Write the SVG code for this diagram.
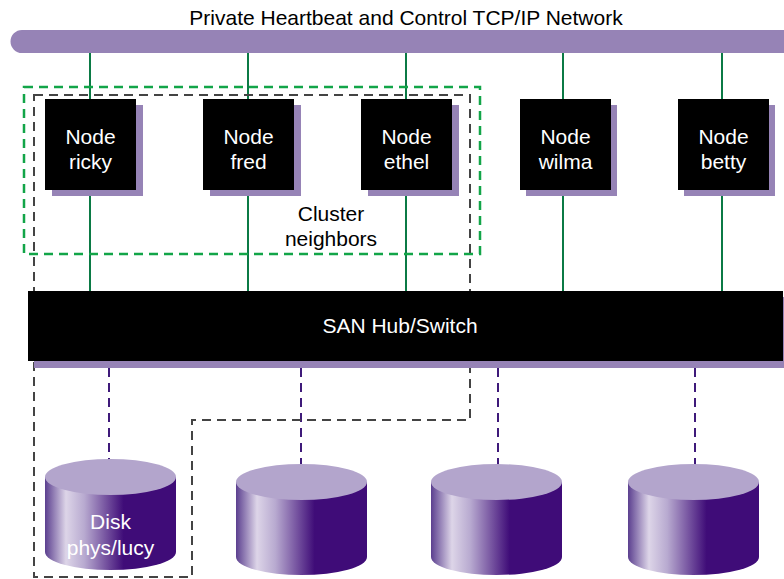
<svg xmlns="http://www.w3.org/2000/svg" width="784" height="579" viewBox="0 0 784 579">
<defs>
<linearGradient id="side" x1="0" y1="0" x2="1" y2="0">
<stop offset="0" stop-color="#5b3f8f"/>
<stop offset="0.16" stop-color="#ddd5e8"/>
<stop offset="0.3" stop-color="#b8aad0"/>
<stop offset="0.6" stop-color="#3f0c78"/>
<stop offset="1" stop-color="#3f0c78"/>
</linearGradient>
</defs>
<style>
text{font-family:"Liberation Sans",Arial,sans-serif;font-size:21px;text-anchor:middle}
.w{fill:#fff}
.k{fill:#000}
.shadow{fill:#9683b6}
.box{fill:#000}
.hb{stroke:#0b7a45;stroke-width:2;fill:none}
.san{stroke:#3f1a7a;stroke-width:2;stroke-dasharray:9 6;fill:none}
.top{fill:#b3a5cc}
.side{fill:url(#side)}
</style>
<rect width="784" height="579" fill="#fff"/>
<text x="406" y="25" class="k">Private Heartbeat and Control TCP/IP Network</text>
<path d="M22,30 H784 V53 H22 A11.5,11.5 0 0 1 22,30 Z" fill="#9683b6"/>

<g id="connectors">
<line class="hb" x1="90" y1="53" x2="90" y2="292"/>
<line class="hb" x1="248" y1="53" x2="248" y2="292"/>
<line class="hb" x1="406" y1="53" x2="406" y2="292"/>
<line class="hb" x1="563" y1="53" x2="563" y2="292"/>
<line class="hb" x1="722" y1="53" x2="722" y2="292"/>
<line class="san" x1="109" y1="368" x2="109" y2="460"/>
<line class="san" x1="301" y1="368" x2="301" y2="465"/>
<line class="san" x1="498" y1="368" x2="498" y2="465"/>
<line class="san" x1="695" y1="368" x2="695" y2="465"/>
</g>

<g id="cluster-neighbors">
<rect x="24" y="87" width="456" height="167" fill="none" stroke="#12a548" stroke-width="2.5" stroke-dasharray="9 6"/>
<text x="331" y="221" class="k">Cluster</text>
<text x="331" y="246" class="k">neighbors</text>
</g>
<g id="ownership">
<path d="M34,95 H470 V420 H192 V577 H34 Z" fill="none" stroke="#444" stroke-width="2" stroke-dasharray="9 6"/>
</g>

<g id="node-ricky">
<rect class="shadow" x="52" y="105" width="91" height="91"/>
<rect class="box" x="45" y="99" width="91" height="91"/>
<text x="90.5" y="144" class="w">Node</text>
<text x="90.5" y="169" class="w">ricky</text>
</g>
<g id="node-fred">
<rect class="shadow" x="210" y="105" width="91" height="91"/>
<rect class="box" x="203" y="99" width="91" height="91"/>
<text x="248.5" y="144" class="w">Node</text>
<text x="248.5" y="169" class="w">fred</text>
</g>
<g id="node-ethel">
<rect class="shadow" x="368" y="105" width="91" height="91"/>
<rect class="box" x="361" y="99" width="91" height="91"/>
<text x="406.5" y="144" class="w">Node</text>
<text x="406.5" y="169" class="w">ethel</text>
</g>
<g id="node-wilma">
<rect class="shadow" x="526" y="105" width="91" height="91"/>
<rect class="box" x="520" y="99" width="91" height="91"/>
<text x="565.5" y="144" class="w">Node</text>
<text x="565.5" y="169" class="w">wilma</text>
</g>
<g id="node-betty">
<rect class="shadow" x="684" y="105" width="91" height="91"/>
<rect class="box" x="678" y="99" width="91" height="91"/>
<text x="723.5" y="144" class="w">Node</text>
<text x="723.5" y="169" class="w">betty</text>
</g>

<g id="san-hub">
<rect class="shadow" x="34" y="297" width="750" height="71"/>
<rect class="box" x="28" y="291" width="755" height="70"/>
<text x="400" y="333" class="w">SAN Hub/Switch</text>
</g>

<g id="disk-lucy">
<path class="side" d="M45,477 V552 A65.5,18 0 0 0 176,552 V477 Z"/>
<ellipse class="top" cx="110.5" cy="477" rx="65.5" ry="18"/>
<text x="110.5" y="529" class="w">Disk</text>
<text x="110.5" y="555" class="w">phys/lucy</text>
</g>
<g id="disk-2">
<path class="side" d="M236,482 V557 A65.5,18 0 0 0 367,557 V482 Z"/>
<ellipse class="top" cx="301.5" cy="482" rx="65.5" ry="18"/>
</g>
<g id="disk-3">
<path class="side" d="M431,482 V557 A65.5,18 0 0 0 562,557 V482 Z"/>
<ellipse class="top" cx="496.5" cy="482" rx="65.5" ry="18"/>
</g>
<g id="disk-4">
<path class="side" d="M628,482 V557 A65.5,18 0 0 0 759,557 V482 Z"/>
<ellipse class="top" cx="693.5" cy="482" rx="65.5" ry="18"/>
</g>
</svg>
